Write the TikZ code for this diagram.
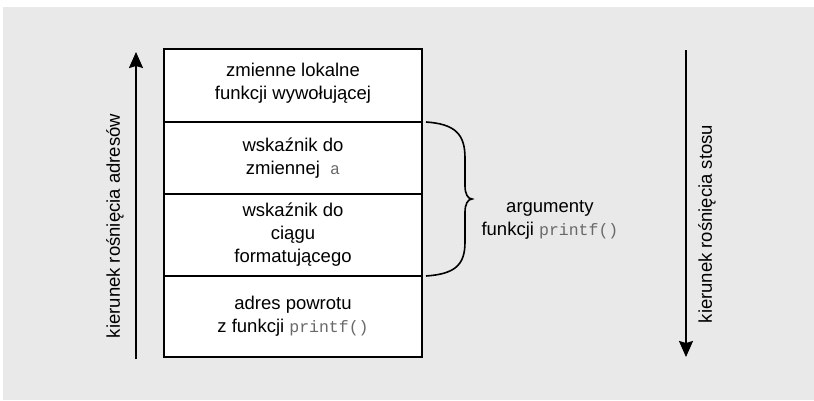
\documentclass[tikz,border=0pt]{standalone}
\usepackage{fontspec}
\setmainfont{Liberation Sans}
\setmonofont{Liberation Mono}
\usepackage{tikz}
\usetikzlibrary{positioning, arrows.meta}

\definecolor{tlo}{RGB}{233,233,233}
\definecolor{kodszary}{RGB}{105,105,105}
\newcommand{\kod}[1]{{\fontsize{16.5}{23}\selectfont\ttfamily\color{kodszary}#1}}

\begin{document}
\begin{tikzpicture}[
    x=1pt, y=-1pt,
    every node/.style={align=center, font=\fontsize{18.5}{23}\selectfont},
    ramka/.style={
        rectangle,
        draw,
        fill=white,
        line width=1.5pt,
        minimum width=258pt,
        outer sep=0pt,
        inner sep=0pt
    },
    strzalka/.style = {draw, -{Stealth[length=16pt, width=14pt, inset=2pt]}, line width=1.6pt},
    napis/.style = {rotate=90}
]
    % tlo
    \useasboundingbox (0,0) rectangle (814,401);
    \fill [white] (0,0) rectangle (814,401);
    \fill [tlo] (3,7) rectangle (814,400);
    % stos
    \node [ramka, minimum height=73pt, anchor=north west] (lokalne) at (164,49) {
        \\[-14pt]
        zmienne lokalne\\
        funkcji wywołującej
    };
    \node [ramka, minimum height=72pt, below=0pt of lokalne] (wskA) {
        wskaźnik do\\
        zmiennej\ \ \kod{a}
    };
    \node [ramka, minimum height=82pt, below=0pt of wskA] (wskFmt) {
        wskaźnik do\\
        ciągu\\
        formatującego
    };
    \node [ramka, minimum height=81pt, below=0pt of wskFmt] (powrot) {
        adres powrotu\\
        z funkcji \kod{printf()}
    };
    % klamra
    \coordinate (klGora) at ([xshift=4pt]wskA.north east);
    \coordinate (klDol) at ([xshift=4pt]wskFmt.south east);
    \coordinate (klCzubek) at (472,199);
    \draw [line width=1.6pt] (klGora)
        .. controls (455,124) and (465,134) .. (465,158) -- (465,186)
        .. controls (465,194) and (468,199) .. (klCzubek)
        .. controls (468,199) and (465,204) .. (465,212) -- (465,242)
        .. controls (465,265) and (455,274) .. (klDol);
    \node [right=6pt of klCzubek, yshift=-21pt] (argumenty) {
        argumenty\\
        funkcji \kod{printf()}
    };
    % kierunki
    \coordinate (adrDol) at (136,359);
    \coordinate (adrGora) at (136,52);
    \coordinate (stosGora) at (686,50);
    \coordinate (stosDol) at (686,357);
    \node [napis] (adresy) at (115,226) {kierunek rośnięcia adresów};
    \node [napis] (stos) at (707,224) {kierunek rośnięcia stosu};
    % strzalki
    \draw [strzalka] (adrDol) -- (adrGora);
    \draw [strzalka] (stosGora) -- (stosDol);
\end{tikzpicture}
\end{document}
